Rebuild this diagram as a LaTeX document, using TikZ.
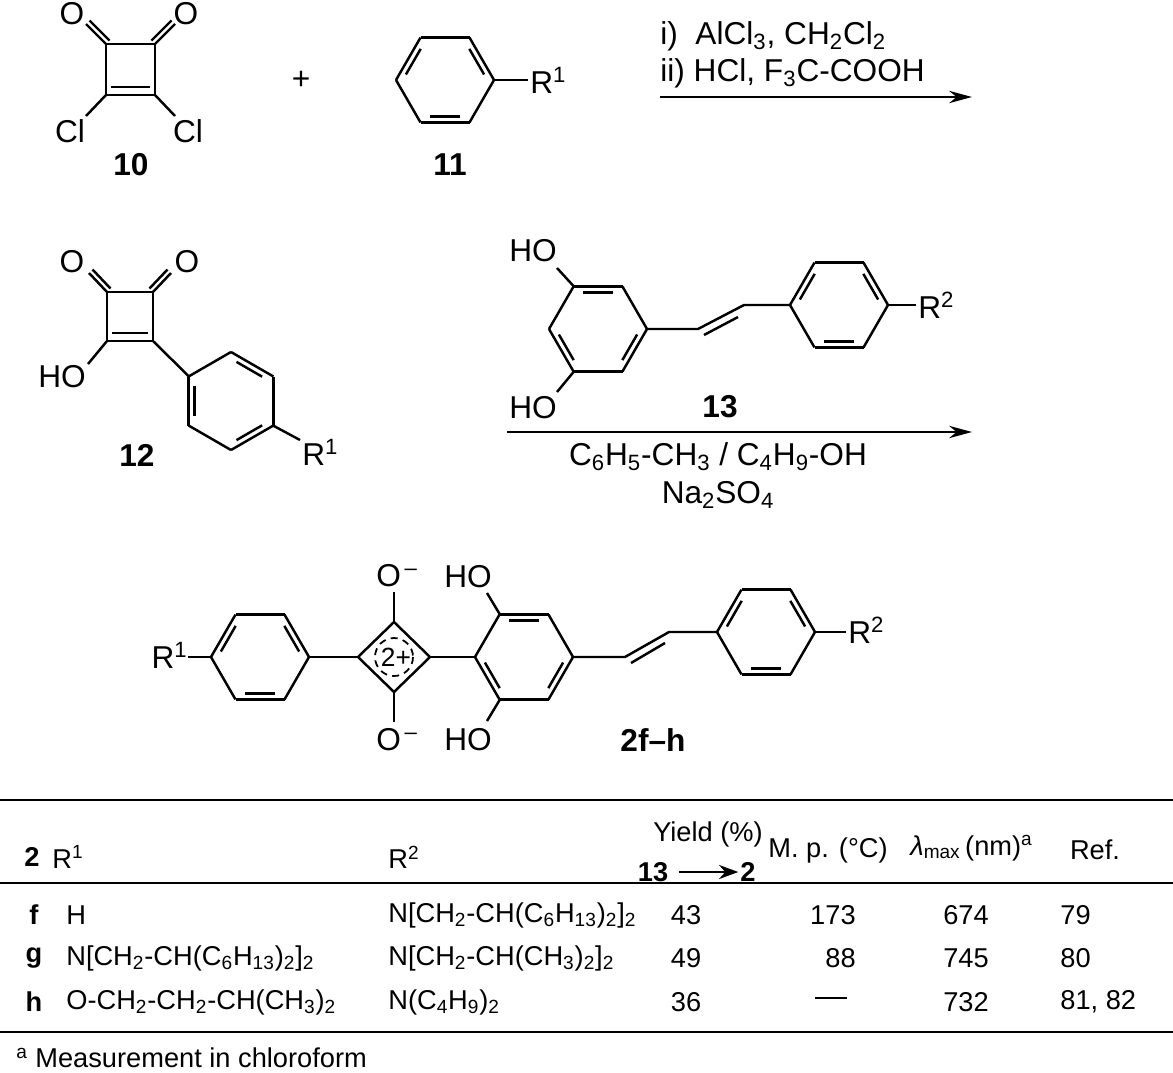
\documentclass[tikz,border=0pt]{standalone}
\usepackage{fontspec}
\setmainfont{Liberation Sans}
\usetikzlibrary{calc,arrows.meta}
\tikzset{bond/.style={line width=1.4pt},
 lbl/.style={font=\fontsize{18}{21}\selectfont,inner sep=0pt},
 blbl/.style={font=\fontsize{18}{21}\selectfont\bfseries,inner sep=0pt},
 tbl/.style={font=\fontsize{15.5}{18}\selectfont,inner sep=0pt},
 btbl/.style={font=\fontsize{15.5}{18}\selectfont\bfseries,inner sep=0pt},
 rxn/.style={line width=1.3pt,-{Stealth[length=13pt,width=7pt]}}}
\newcommand\hexring[4]{%
 \foreach \k in {0,...,5}{\draw[bond] ($(#1,#2)+(#3+60*\k:49)$) -- ($(#1,#2)+(#3+60*\k+60:49)$);}
 \foreach \k in {#4}{\draw[bond] ($(#1,#2)+(#3+60*\k+8:39.5)$) -- ($(#1,#2)+(#3+60*\k+52:39.5)$);}}
\begin{document}
\begin{tikzpicture}[x=0.02cm,y=-0.02cm]
\useasboundingbox (0,0) rectangle (1173,1072);
% ---- 10
\draw[bond] (106,44) rectangle (155,95);
\draw[bond] (111,87) -- (150,87);
\draw[bond] (106,44) -- (86,24); \draw[bond] (109.5,40.5) -- (89.5,20.5);
\draw[bond] (155,44) -- (175,24); \draw[bond] (151.5,40.5) -- (171.5,20.5);
\draw[bond] (106,95) -- (86,116); \draw[bond] (155,95) -- (175,116);
\node[lbl] (o10a) at (72,14) {O}; \node[lbl] (o10b) at (186,14) {O};
\node[lbl] (cl10a) at (70,131) {Cl}; \node[lbl] (cl10b) at (188,131) {Cl};
\node[blbl] (n10) at (131,165) {10};
\node[lbl] (plus) at (301,80) {+};
% ---- 11
\hexring{445}{80}{0}{1,3,5}
\draw[bond] (494,80) -- (528,80);
\node[lbl,anchor=west] (r11) at (530,80) {R\textsuperscript{1}};
\node[blbl] (n11) at (450,165) {11};
% ---- arrow 1
\coordinate (a1s) at (660,97); \coordinate (a1e) at (972,97);
\draw[rxn] (a1s) -- (a1e);
\node[lbl,anchor=west] (c1) at (660,36) {i)\ \ AlCl\textsubscript{3}, CH\textsubscript{2}Cl\textsubscript{2}};
\node[lbl,anchor=west] (c2) at (660,73) {ii) HCl, F\textsubscript{3}C-COOH};
% ---- 12
\draw[bond] (107,292) rectangle (153,341);
\draw[bond] (112,333) -- (148,333);
\draw[bond] (107,292) -- (89,273); \draw[bond] (110.5,288.5) -- (92.5,269.5);
\draw[bond] (153,292) -- (171,273); \draw[bond] (149.5,288.5) -- (167.5,269.5);
\draw[bond] (107,341) -- (88,364);
\draw[bond] (153,341) -- (189,376.5);
\hexring{231}{401}{30}{0,2,4}
\draw[bond] (273,425.5) -- (300,440);
\node[lbl] (o12a) at (72,262) {O}; \node[lbl] (o12b) at (187,262) {O};
\node[lbl] (ho12) at (62,377) {HO};
\node[lbl,anchor=west] (r12) at (302,452) {R\textsuperscript{1}};
\node[blbl] (n12) at (137,455) {12};
% ---- 13
\hexring{598}{329}{0}{0,2,4}
\draw[bond] (574,286.6) -- (557,268);
\draw[bond] (574,371.4) -- (557,392);
\draw[bond] (647,329) -- (698,329) -- (744,305) -- (790,305);
\draw[bond] (704,335) -- (738,317);
\hexring{839}{305}{0}{1,3,5}
\draw[bond] (888,305) -- (916,305);
\node[lbl] (ho13a) at (533,251) {HO}; \node[lbl] (ho13b) at (533,408) {HO};
\node[lbl,anchor=west] (r13) at (918,305) {R\textsuperscript{2}};
\node[blbl] (n13) at (720,407) {13};
% ---- arrow 2
\coordinate (a2s) at (507,432); \coordinate (a2e) at (972,432);
\draw[rxn] (a2s) -- (a2e);
\node[lbl] (c3) at (718,457) {C\textsubscript{6}H\textsubscript{5}-CH\textsubscript{3} / C\textsubscript{4}H\textsubscript{9}-OH};
\node[lbl] (c4) at (718,495) {Na\textsubscript{2}SO\textsubscript{4}};
% ---- 2f-h
\hexring{260}{657}{0}{1,3,5}
\draw[bond] (211,657) -- (188,657);
\node[lbl,anchor=east] (r1p) at (188,655) {R\textsuperscript{1}};
\draw[bond] (309,657) -- (358,657);
\draw[bond] (358,657) -- (394,622) -- (430,657) -- (394,692) -- cycle;
\draw[line width=1pt,dash pattern=on 4pt off 3pt] (394,657) circle (19);
\node[lbl,font=\fontsize{15}{17}\selectfont] (chg) at (396,657) {2+};
\draw[bond] (394,622) -- (394,592);
\draw[bond] (394,692) -- (394,722);
\node[lbl] (om1) at (397,576) {O\textsuperscript{\,--}};
\node[lbl] (om2) at (397,740) {O\textsuperscript{\,--}};
\draw[bond] (430,657) -- (475,657);
\hexring{524}{657}{0}{0,2,4}
\draw[bond] (500,614.6) -- (487,593);
\draw[bond] (500,699.4) -- (487,721);
\node[lbl] (ho2a) at (468,577) {HO}; \node[lbl] (ho2b) at (468,740) {HO};
\draw[bond] (573,657) -- (625,657) -- (669,632) -- (717,632);
\draw[bond] (631,663) -- (665,643);
\hexring{766}{632}{0}{1,3,5}
\draw[bond] (815,632) -- (846,632);
\node[lbl,anchor=west] (r2p) at (848,630) {R\textsuperscript{2}};
\node[blbl] (n2) at (653,740) {2f--h};
% ---- table
\draw[line width=1.2pt] (0,800) -- (1173,800);
\draw[line width=1pt] (0,883) -- (1173,883);
\draw[line width=1.2pt] (0,1032) -- (1173,1032);
\node[btbl] (h2) at (32,857) {2};
\node[tbl,anchor=west] (hr1) at (52,857) {R\textsuperscript{1}};
\node[tbl,anchor=west] (hr2) at (388,857) {R\textsuperscript{2}};
\node[tbl] (hy) at (708,834) {Yield (\%)};
\node[btbl] (h13) at (653,872) {13};
\node[btbl] (h2b) at (748,872) {2};
\draw[line width=1.2pt,-{Stealth[length=11pt,width=8pt]}] (h13.east) ++(10,0) -- ([xshift=-1pt]h2b.west);
\node[tbl,anchor=west] (hmp) at (768,850) {M. p. (°C)};
\node[tbl,anchor=west] (hl) at (910,848) {{\itshape λ}\textsubscript{max}\,(nm)\textsuperscript{a}};
\node[tbl] (href) at (1095,850) {Ref.};
\foreach \y/\l/\ra/\rb/\yi/\mp/\lm/\rf in {
 915/f/H/{N[CH\textsubscript{2}-CH(C\textsubscript{6}H\textsubscript{13})\textsubscript{2}]\textsubscript{2}}/43/173/674/79,
 958/g/{N[CH\textsubscript{2}-CH(C\textsubscript{6}H\textsubscript{13})\textsubscript{2}]\textsubscript{2}}/{N[CH\textsubscript{2}-CH(CH\textsubscript{3})\textsubscript{2}]\textsubscript{2}}/49/88/745/80,
 1002/h/{O-CH\textsubscript{2}-CH\textsubscript{2}-CH(CH\textsubscript{3})\textsubscript{2}}/{N(C\textsubscript{4}H\textsubscript{9})\textsubscript{2}}/36/{}/732/{81, 82}}{
 \node[btbl] at (34,\y) {\l};
 \node[tbl,anchor=west] at (66,\y) {\ra};
 \node[tbl,anchor=west] at (388,\y) {\rb};
 \node[tbl] at (686,\y) {\yi};
 \node[tbl,anchor=east] at (856,\y) {\mp};
 \node[tbl] at (966,\y) {\lm};
 \node[tbl,anchor=west] at (1060,\y) {\rf};
}
\draw[line width=1.2pt] (815,998) -- (847,998);
\node[tbl,anchor=west] (fn) at (16,1058) {\textsuperscript{a} Measurement in chloroform};
\end{tikzpicture}
\end{document}
